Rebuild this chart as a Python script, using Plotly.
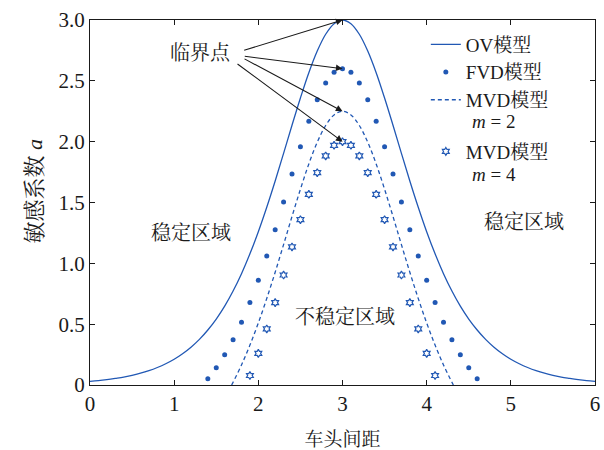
import plotly.graph_objects as go

# ---- data ----
ov_x = [round(i * 0.1, 1) for i in range(61)]
ov_y = [0.030, 0.036, 0.044, 0.054, 0.065, 0.080, 0.097, 0.118, 0.144, 0.175,
        0.212, 0.257, 0.311, 0.375, 0.452, 0.542, 0.648, 0.772, 0.915, 1.078,
        1.260, 1.461, 1.677, 1.904, 2.135, 2.359, 2.567, 2.745, 2.883, 2.970,
        3.000,
        2.970, 2.883, 2.745, 2.567, 2.359, 2.135, 1.904, 1.677, 1.461, 1.260,
        1.078, 0.915, 0.772, 0.648, 0.542, 0.452, 0.375, 0.311, 0.257, 0.212,
        0.175, 0.144, 0.118, 0.097, 0.080, 0.065, 0.054, 0.044, 0.036, 0.030]

fvd_x = [1.4, 1.5, 1.6, 1.7, 1.8, 1.9, 2.0, 2.1, 2.2, 2.3, 2.4, 2.5, 2.6, 2.7, 2.8, 2.9, 3.0,
         3.1, 3.2, 3.3, 3.4, 3.5, 3.6, 3.7, 3.8, 3.9, 4.0, 4.1, 4.2, 4.3, 4.4, 4.5, 4.6]
fvd_y = [0.052, 0.142, 0.248, 0.372, 0.515, 0.678, 0.860, 1.061, 1.277, 1.504, 1.735,
         1.959, 2.167, 2.345, 2.483, 2.570, 2.600,
         2.570, 2.483, 2.345, 2.167, 1.959, 1.735, 1.504, 1.277, 1.061, 0.860,
         0.678, 0.515, 0.372, 0.248, 0.142, 0.052]

mvd2_x = [1.683, 1.7, 1.8, 1.9, 2.0, 2.1, 2.2, 2.3, 2.4, 2.5, 2.6, 2.7, 2.8, 2.9, 3.0,
          3.1, 3.2, 3.3, 3.4, 3.5, 3.6, 3.7, 3.8, 3.9, 4.0, 4.1, 4.2, 4.3, 4.317]
mvd2_y = [0.0, 0.022, 0.165, 0.328, 0.510, 0.711, 0.927, 1.154, 1.385, 1.609, 1.817,
          1.995, 2.133, 2.220, 2.250,
          2.220, 2.133, 1.995, 1.817, 1.609, 1.385, 1.154, 0.927, 0.711, 0.510,
          0.328, 0.165, 0.022, 0.0]

mvd4_x = [1.9, 2.0, 2.1, 2.2, 2.3, 2.4, 2.5, 2.6, 2.7, 2.8, 2.9, 3.0,
          3.1, 3.2, 3.3, 3.4, 3.5, 3.6, 3.7, 3.8, 3.9, 4.0, 4.1]
mvd4_y = [0.078, 0.260, 0.461, 0.677, 0.904, 1.135, 1.359, 1.567, 1.745, 1.883, 1.970,
          2.000,
          1.970, 1.883, 1.745, 1.567, 1.359, 1.135, 0.904, 0.677, 0.461, 0.260, 0.078]

x_ticks = [0, 1, 2, 3, 4, 5, 6]
x_tick_labels = ["0", "1", "2", "3", "4", "5", "6"]
y_ticks = [0, 0.5, 1.0, 1.5, 2.0, 2.5, 3.0]
y_tick_labels = ["0", "0.5", "1.0", "1.5", "2.0", "2.5", "3.0"]

names = ["OV模型", "FVD模型", "MVD模型", "MVD模型"]
sub_labels = ["<i>m</i> = 2", "<i>m</i> = 4"]

BLUE = "#2158b4"
INK = "#1a1a1a"
SERIF = "Liberation Serif, DejaVu Serif, Noto Serif CJK SC, Noto Sans CJK SC, serif"

fig = go.Figure()
fig.add_trace(go.Scatter(x=ov_x, y=ov_y, mode="lines", name=names[0], legendgroup="g1",
                         line=dict(color=BLUE, width=1.3, shape="spline")))
fig.add_trace(go.Scatter(x=fvd_x, y=fvd_y, mode="markers", name=names[1], legendgroup="g1",
                         marker=dict(color=BLUE, size=5, symbol="circle",
                                     line=dict(width=0))))
fig.add_trace(go.Scatter(x=mvd2_x, y=mvd2_y, mode="lines", name=names[2], legendgroup="g1",
                         line=dict(color=BLUE, width=1.3, dash="4px,3px", shape="spline")))
fig.add_trace(go.Scatter(x=mvd4_x, y=mvd4_y, mode="markers", name=names[3], legendgroup="g2",
                         marker=dict(color=BLUE, size=6, symbol="hexagram-open",
                                     line=dict(width=1.2, color=BLUE))))

# second lines of the MVD legend entries
for txt, py in zip(sub_labels, [122, 174]):
    fig.add_annotation(x=(470 - 90) / 505, y=(385 - py) / 365, xref="paper", yref="paper",
                       xanchor="left", yanchor="middle", text=txt, showarrow=False,
                       font=dict(size=19, color=INK, family=SERIF))

# "临界点" annotation with arrows to the peaks
label_x, label_y = 1.307, 2.728
starts = [(1.814, 2.747), (1.821, 2.703), (1.818, 2.687), (1.735, 2.648)]
series = [(ov_x, ov_y), (fvd_x, fvd_y), (mvd2_x, mvd2_y), (mvd4_x, mvd4_y)]
for (sx, sy), (xs, ys) in zip(starts, series):
    k = ys.index(max(ys))
    fig.add_annotation(x=xs[k], y=ys[k], ax=sx, ay=sy, axref="x", ayref="y",
                       xref="x", yref="y", text="", showarrow=True,
                       arrowhead=2, arrowsize=1.2, arrowwidth=1.1, arrowcolor=INK,
                       standoff=0)
fig.add_annotation(x=label_x, y=label_y, xref="x", yref="y", text="临界点",
                   showarrow=False, font=dict(size=20, color=INK, family=SERIF))

for txt, tx, ty in [("稳定区域", 1.194, 1.249), ("稳定区域", 5.156, 1.339),
                    ("不稳定区域", 3.035, 0.555)]:
    fig.add_annotation(x=tx, y=ty, xref="x", yref="y", text=txt, showarrow=False,
                       font=dict(size=20, color=INK, family=SERIF))

# y axis title (placed as rotated text like the reference)
fig.add_annotation(x=(19 - 90) / 505, y=(385 - 191) / 365, xref="paper", yref="paper",
                   text="敏感系数 <i>a</i>", textangle=-90, showarrow=False,
                   font=dict(size=22, color=INK, family=SERIF))

axis_common = dict(showgrid=False, zeroline=False, showline=True, linecolor=INK,
                   linewidth=1, mirror="allticks", ticks="inside", ticklen=5,
                   tickcolor=INK, tickfont=dict(size=21, color=INK, family=SERIF))

fig.update_xaxes(range=[0, 6], tickvals=x_ticks, ticktext=x_tick_labels,
                 title=dict(text="车头间距", font=dict(size=19, color=INK, family=SERIF),
                            standoff=18),
                 **axis_common)
fig.update_yaxes(range=[0, 3], tickvals=y_ticks, ticktext=y_tick_labels,
                 **axis_common)

fig.update_layout(
    width=604, height=450,
    margin=dict(l=90, r=9, t=20, b=65, autoexpand=False),
    plot_bgcolor="white", paper_bgcolor="white",
    font=dict(family=SERIF, color=INK),
    legend=dict(x=0.665, y=0.985, xanchor="left", yanchor="top", valign="top",
                bgcolor="rgba(255,255,255,0)", borderwidth=0,
                font=dict(size=19, family=SERIF, color=INK),
                tracegroupgap=24, itemwidth=30),
)

# remove the page's default 8px body margin so the figure fills the window exactly
fig.write_html("out.html", config={"displayModeBar": False},
               post_script="document.body.style.margin='0';document.body.style.overflow='hidden';")
